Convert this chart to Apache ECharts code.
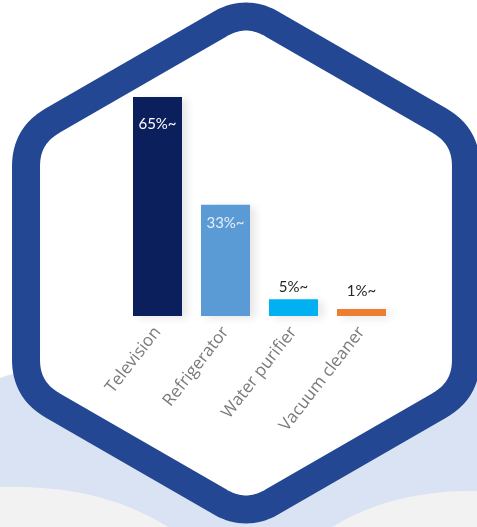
<!DOCTYPE html>
<html><head><meta charset="utf-8">
<script src="https://cdn.jsdelivr.net/npm/echarts@6/dist/echarts.min.js"></script>
<style>html,body{margin:0;padding:0;background:#fff}#c{width:477px;height:527px}</style>
</head><body><div id="c"></div>
<script>
const categories = ['Television', 'Refrigerator', 'Water purifier', 'Vacuum cleaner'];
const values = [65, 33, 5, 1];
const valueLabels = ['65%~', '33%~', '5%~', '1%~'];
const barColors = ['#0b1f5c', '#5b9bd5', '#00b0f0', '#ed7d31'];

function quad(p0, c, p1, n) {
  const pts = [];
  for (let k = 0; k <= n; k++) {
    const t = k / n, u = 1 - t;
    pts.push([u * u * p0[0] + 2 * u * t * c[0] + t * t * p1[0], u * u * p0[1] + 2 * u * t * c[1] + t * t * p1[1]]);
  }
  return pts;
}
function hexPoints(cx, cy, R, r) {
  const v = [];
  for (let i = 0; i < 6; i++) {
    const a = (-90 + 60 * i) * Math.PI / 180;
    v.push([cx + R * Math.cos(a), cy + R * Math.sin(a)]);
  }
  const d = r * Math.tan(Math.PI / 6);
  let pts = [];
  for (let i = 0; i < 6; i++) {
    const prev = v[(i + 5) % 6], cur = v[i], next = v[(i + 1) % 6];
    const l1 = Math.hypot(cur[0] - prev[0], cur[1] - prev[1]);
    const l2 = Math.hypot(next[0] - cur[0], next[1] - cur[1]);
    const a = [cur[0] + (prev[0] - cur[0]) * d / l1, cur[1] + (prev[1] - cur[1]) * d / l1];
    const b = [cur[0] + (next[0] - cur[0]) * d / l2, cur[1] + (next[1] - cur[1]) * d / l2];
    pts = pts.concat(quad(a, cur, b, 16));
  }
  return pts;
}

const labelCfg = [
  { position: 'insideTop', distance: 20, color: '#ffffff' },
  { position: 'insideTop', distance: 11, color: '#e6eef9' },
  { position: 'top', distance: 4, color: '#262626' },
  { position: 'top', distance: 10, color: '#262626' }
];

const lavender = [[0, 378]].concat(quad([0, 378], [20, 370], [60, 370], 10)).concat([[477, 372], [477, 527], [0, 527]]);
const grayL = quad([0, 487], [100, 484], [168, 527], 20).concat([[0, 527]]);
const grayR = quad([477, 491], [392, 490], [332, 527], 20).concat([[477, 527]]);

const chart = echarts.init(document.getElementById('c'));
chart.setOption({
  animation: false,
  backgroundColor: '#ffffff',
  graphic: [
    { type: 'polygon', z: -10, shape: { points: lavender }, style: { fill: '#dae3f3' } },
    { type: 'polygon', z: -10, shape: { points: grayL }, style: { fill: '#f2f2f2' } },
    { type: 'polygon', z: -10, shape: { points: grayR }, style: { fill: '#f2f2f2' } },
    { type: 'polygon', z: -5, shape: { points: hexPoints(246, 263, 254, 52) }, style: { fill: '#ffffff', stroke: '#234792', lineWidth: 28, lineJoin: 'round' } }
  ],
  grid: { left: 123.5, right: 81.5, top: 97, bottom: 211 },
  xAxis: {
    type: 'category',
    z: 20,
    data: categories,
    axisLine: { show: false },
    axisTick: { show: false },
    axisLabel: { rotate: 52, margin: 13, color: '#7a7a7a', fontSize: 17, fontFamily: 'Open Sans', interval: 0 }
  },
  yAxis: { type: 'value', min: 0, max: 65, show: false, splitLine: { show: false } },
  series: [{
    type: 'bar',
    z: 10,
    barWidth: 49,
    barMinHeight: 7,
    data: values.map((v, i) => ({
      value: v,
      itemStyle: { color: barColors[i], shadowColor: 'rgba(0,0,0,0.10)', shadowBlur: 8, shadowOffsetX: 5, shadowOffsetY: 2 },
      label: {
        show: true,
        position: labelCfg[i].position,
        distance: labelCfg[i].distance,
        color: labelCfg[i].color,
        formatter: valueLabels[i],
        fontSize: 15,
        fontFamily: 'Lato, sans-serif'
      }
    }))
  }]
});
</script></body></html>
